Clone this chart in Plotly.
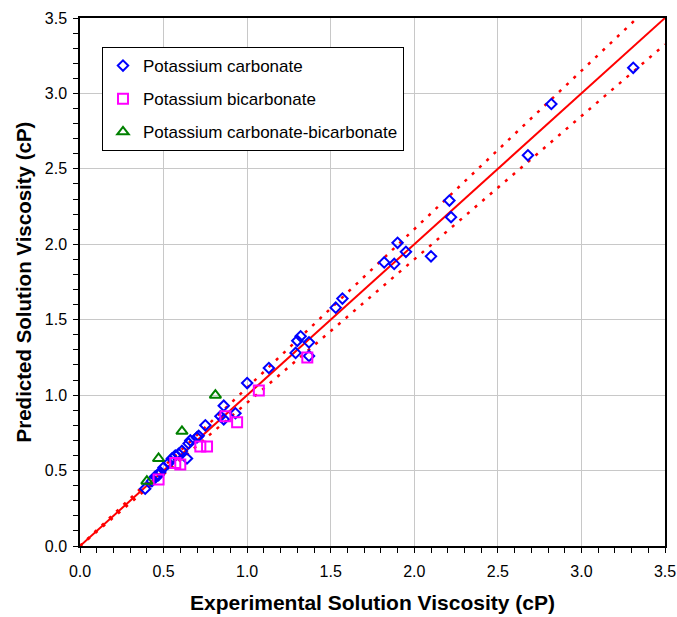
import numpy as np
import plotly.graph_objects as go

# Potassium carbonate (blue diamonds)
carb_x = [0.39, 0.43, 0.45, 0.47, 0.48, 0.50, 0.53, 0.55, 0.57, 0.59, 0.61, 0.64, 0.65, 0.66,
          0.70, 0.71, 0.75, 0.84, 0.86, 0.86, 0.93, 1.00, 1.13, 1.29, 1.30, 1.32, 1.37, 1.37,
          1.53, 1.57, 1.82, 1.88, 1.90, 1.95, 2.10, 2.21, 2.22, 2.68, 2.82, 3.31]
carb_y = [0.38, 0.43, 0.46, 0.47, 0.49, 0.52, 0.55, 0.58, 0.60, 0.61, 0.63, 0.58, 0.68, 0.70,
          0.72, 0.73, 0.80, 0.86, 0.84, 0.93, 0.88, 1.08, 1.18, 1.28, 1.36, 1.39, 1.35, 1.26,
          1.58, 1.64, 1.88, 1.87, 2.01, 1.95, 1.92, 2.29, 2.18, 2.59, 2.93, 3.17]

# Potassium bicarbonate (magenta squares)
bicarb_x = [0.47, 0.57, 0.60, 0.72, 0.76, 0.87, 0.94, 1.07, 1.36]
bicarb_y = [0.44, 0.55, 0.54, 0.66, 0.66, 0.86, 0.82, 1.03, 1.25]

# Potassium carbonate-bicarbonate (green triangles)
mix_x = [0.40, 0.47, 0.61, 0.81]
mix_y = [0.43, 0.58, 0.76, 1.00]

# Parity line and +/-5% bands
line_x = np.array([0.0, 3.5])
band = 0.05

axis_max = 3.5
font_family = "Arial, Liberation Sans, sans-serif"

fig = go.Figure()

fig.add_trace(go.Scatter(x=line_x, y=line_x, mode="lines",
                         line=dict(color="#FF0000", width=2), showlegend=False, hoverinfo="skip"))
fig.add_trace(go.Scatter(x=line_x / (1 + band), y=line_x, mode="lines",
                         line=dict(color="#FF0000", width=2.5, dash="3px,7px"),
                         showlegend=False, hoverinfo="skip"))
fig.add_trace(go.Scatter(x=line_x, y=line_x * (1 - band), mode="lines",
                         line=dict(color="#FF0000", width=2.5, dash="3px,7px"),
                         showlegend=False, hoverinfo="skip"))

fig.add_trace(go.Scatter(x=carb_x, y=carb_y, mode="markers", name="Potassium carbonate",
                         legendgroup="a",
                         marker=dict(symbol="diamond-open", size=8, color="#0000FF",
                                     line=dict(width=2, color="#0000FF"))))
fig.add_trace(go.Scatter(x=bicarb_x, y=bicarb_y, mode="markers", name="Potassium bicarbonate",
                         legendgroup="b",
                         marker=dict(symbol="square-open", size=10, color="#FF00FF",
                                     line=dict(width=2, color="#FF00FF"))))
fig.add_trace(go.Scatter(x=mix_x, y=mix_y, mode="markers", name="Potassium carbonate-bicarbonate",
                         legendgroup="c",
                         marker=dict(symbol="triangle-up-open", size=10, color="#008000",
                                     line=dict(width=2, color="#008000"))))

axis_common = dict(
    range=[0, axis_max], dtick=0.5, tickformat=".1f",
    showgrid=True, gridcolor="#C8C8C8", gridwidth=1,
    showline=True, linecolor="black", linewidth=1.5, mirror=True,
    ticks="outside", ticklen=5, tickcolor="black", tickwidth=1,
    minor=dict(dtick=0.1, ticks="outside", ticklen=5, tickcolor="black", showgrid=False),
    tickfont=dict(size=16, color="black", family=font_family),
    zeroline=False, automargin=False,
)

fig.update_layout(
    width=677, height=617,
    margin=dict(l=80, r=12, t=18, b=71),
    paper_bgcolor="white", plot_bgcolor="white",
    font=dict(family=font_family, color="black"),
    xaxis=dict(**axis_common, ticklabelstandoff=5,
               title=dict(text="<b>Experimental Solution Viscosity (cP)</b>",
                          font=dict(size=21, family=font_family), standoff=16)),
    yaxis=dict(**axis_common, ticklabelstandoff=3,
               title=dict(text="<b>Predicted Solution Viscosity (cP)</b>",
                          font=dict(size=20.5, family=font_family), standoff=8)),
    legend=dict(x=0.0376, y=0.945, xanchor="left", yanchor="top",
                bgcolor="white", bordercolor="black", borderwidth=1,
                font=dict(size=17, family=font_family),
                tracegroupgap=8, itemwidth=30,
                entrywidth=270, entrywidthmode="pixels",
                traceorder="grouped"),
    showlegend=True,
)

fig.write_html("out.html")
